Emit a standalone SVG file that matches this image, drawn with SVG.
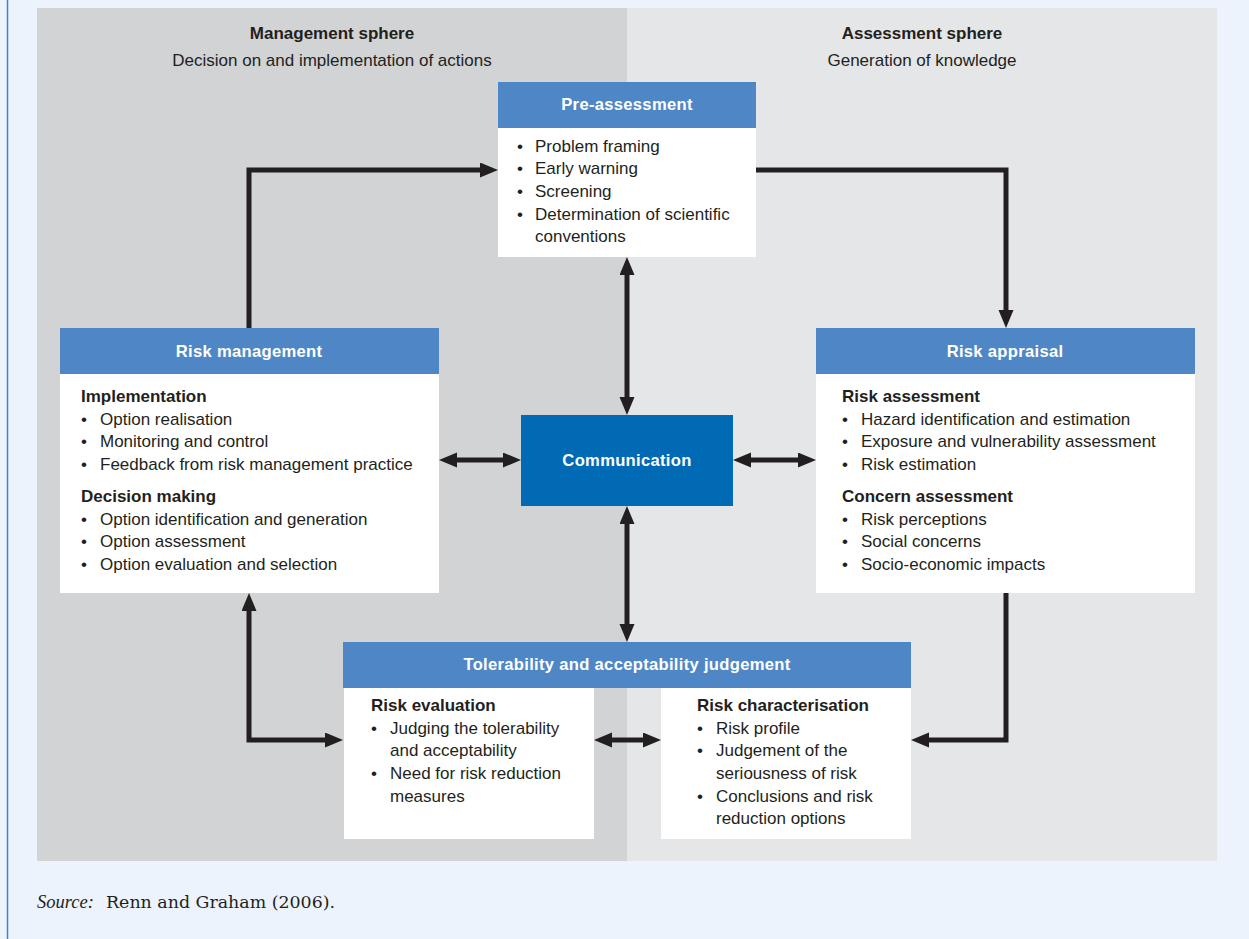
<svg xmlns="http://www.w3.org/2000/svg" width="1249" height="939" viewBox="0 0 1249 939">
<defs>
<style>
.t{font-family:"Liberation Sans",Arial,sans-serif;font-size:17px;fill:#231F20}
.b{font-weight:bold}
.h{font-family:"Liberation Sans",Arial,sans-serif;font-size:16.6px;font-weight:bold;fill:#FFFFFF;text-anchor:middle;letter-spacing:0.3px}
.hd{fill:#4F87C6}
.bd{fill:#FFFFFF}
.c{fill:none;stroke:#231F20;stroke-width:5}
.src{font-family:"DejaVu Serif","Liberation Serif",serif;font-size:17.4px;fill:#231F20}
.srci{font-family:"Liberation Serif","DejaVu Serif",serif;font-style:italic;font-size:18.5px}
</style>
<marker id="ah" markerUnits="userSpaceOnUse" markerWidth="19" markerHeight="16" refX="0" refY="7.5" orient="auto-start-reverse" viewBox="0 0 19 16">
<path d="M0,0 L18,7.5 L0,15 Z" fill="#231F20"/>
</marker>
</defs>
<rect x="0" y="0" width="1249" height="939" fill="#ECF3FD"/>
<line x1="7.5" y1="0" x2="7.5" y2="939" stroke="#3C7FD8" stroke-width="1.5"/>
<rect x="37" y="8" width="590" height="853" fill="#D1D3D5"/>
<rect x="627" y="8" width="590" height="853" fill="#E5E6E8"/>
<g id="sphere-labels">
<text class="t b" x="332" y="39" text-anchor="middle">Management sphere</text>
<text class="t" x="332" y="66" text-anchor="middle">Decision on and implementation of actions</text>
<text class="t b" x="922" y="39" text-anchor="middle">Assessment sphere</text>
<text class="t" x="922" y="66" text-anchor="middle">Generation of knowledge</text>
</g>
<g id="connectors">
<path class="c" d="M249,328 V170 H480" marker-end="url(#ah)"/>
<path class="c" d="M756,170 H1006 V310" marker-end="url(#ah)"/>
<path class="c" d="M1006,593 V740 H929" marker-end="url(#ah)"/>
<path class="c" d="M249,611 V740 H325" marker-start="url(#ah)" marker-end="url(#ah)"/>
<path class="c" d="M627,275 V397" marker-start="url(#ah)" marker-end="url(#ah)"/>
<path class="c" d="M627,524 V624" marker-start="url(#ah)" marker-end="url(#ah)"/>
<path class="c" d="M457,460 H503" marker-start="url(#ah)" marker-end="url(#ah)"/>
<path class="c" d="M751,460 H798" marker-start="url(#ah)" marker-end="url(#ah)"/>
<path class="c" d="M612,740 H643" marker-start="url(#ah)" marker-end="url(#ah)"/>
</g>
<g id="pre-assessment">
<rect class="bd" x="498" y="82" width="258" height="175"/>
<rect class="hd" x="498" y="82" width="258" height="46"/>
<text class="h" x="627" y="110">Pre-assessment</text>
<text class="t" x="517" y="152">•<tspan x="535">Problem framing</tspan></text>
<text class="t" x="517" y="174">•<tspan x="535">Early warning</tspan></text>
<text class="t" x="517" y="197">•<tspan x="535">Screening</tspan></text>
<text class="t" x="517" y="220">•<tspan x="535">Determination of scientific</tspan></text>
<text class="t" x="535" y="242">conventions</text>
</g>
<g id="risk-management">
<rect class="bd" x="60" y="328" width="379" height="265"/>
<rect class="hd" x="60" y="328" width="379" height="46"/>
<text class="h" x="249" y="357">Risk management</text>
<text class="t b" x="81" y="402">Implementation</text>
<text class="t" x="81" y="425">•<tspan x="100">Option realisation</tspan></text>
<text class="t" x="81" y="447">•<tspan x="100">Monitoring and control</tspan></text>
<text class="t" x="81" y="470">•<tspan x="100">Feedback from risk management practice</tspan></text>
<text class="t b" x="81" y="502">Decision making</text>
<text class="t" x="81" y="525">•<tspan x="100">Option identification and generation</tspan></text>
<text class="t" x="81" y="547">•<tspan x="100">Option assessment</tspan></text>
<text class="t" x="81" y="570">•<tspan x="100">Option evaluation and selection</tspan></text>
</g>
<g id="risk-appraisal">
<rect class="bd" x="816" y="328" width="379" height="265"/>
<rect class="hd" x="816" y="328" width="379" height="46"/>
<text class="h" x="1005" y="357">Risk appraisal</text>
<text class="t b" x="842" y="402">Risk assessment</text>
<text class="t" x="842" y="425">•<tspan x="861">Hazard identification and estimation</tspan></text>
<text class="t" x="842" y="447">•<tspan x="861">Exposure and vulnerability assessment</tspan></text>
<text class="t" x="842" y="470">•<tspan x="861">Risk estimation</tspan></text>
<text class="t b" x="842" y="502">Concern assessment</text>
<text class="t" x="842" y="525">•<tspan x="861">Risk perceptions</tspan></text>
<text class="t" x="842" y="547">•<tspan x="861">Social concerns</tspan></text>
<text class="t" x="842" y="570">•<tspan x="861">Socio-economic impacts</tspan></text>
</g>
<g id="communication">
<rect x="521" y="415" width="212" height="91" fill="#006AB5"/>
<text class="h" x="627" y="466">Communication</text>
</g>
<g id="tolerability">
<rect class="bd" x="344" y="687" width="250" height="152"/>
<rect class="bd" x="661" y="687" width="250" height="152"/>
<rect class="hd" x="343" y="642" width="568" height="46"/>
<text class="h" x="627" y="670">Tolerability and acceptability judgement</text>
<text class="t b" x="371" y="711">Risk evaluation</text>
<text class="t" x="371" y="734">•<tspan x="390">Judging the tolerability</tspan></text>
<text class="t" x="390" y="756">and acceptability</text>
<text class="t" x="371" y="779">•<tspan x="390">Need for risk reduction</tspan></text>
<text class="t" x="390" y="802">measures</text>
<text class="t b" x="697" y="711">Risk characterisation</text>
<text class="t" x="697" y="734">•<tspan x="716">Risk profile</tspan></text>
<text class="t" x="697" y="756">•<tspan x="716">Judgement of the</tspan></text>
<text class="t" x="716" y="779">seriousness of risk</text>
<text class="t" x="697" y="802">•<tspan x="716">Conclusions and risk</tspan></text>
<text class="t" x="716" y="824">reduction options</text>
</g>
<g id="source">
<text class="src" x="37" y="908"><tspan class="srci">Source:</tspan><tspan x="106">Renn and Graham (2006).</tspan></text>
</g>
</svg>
